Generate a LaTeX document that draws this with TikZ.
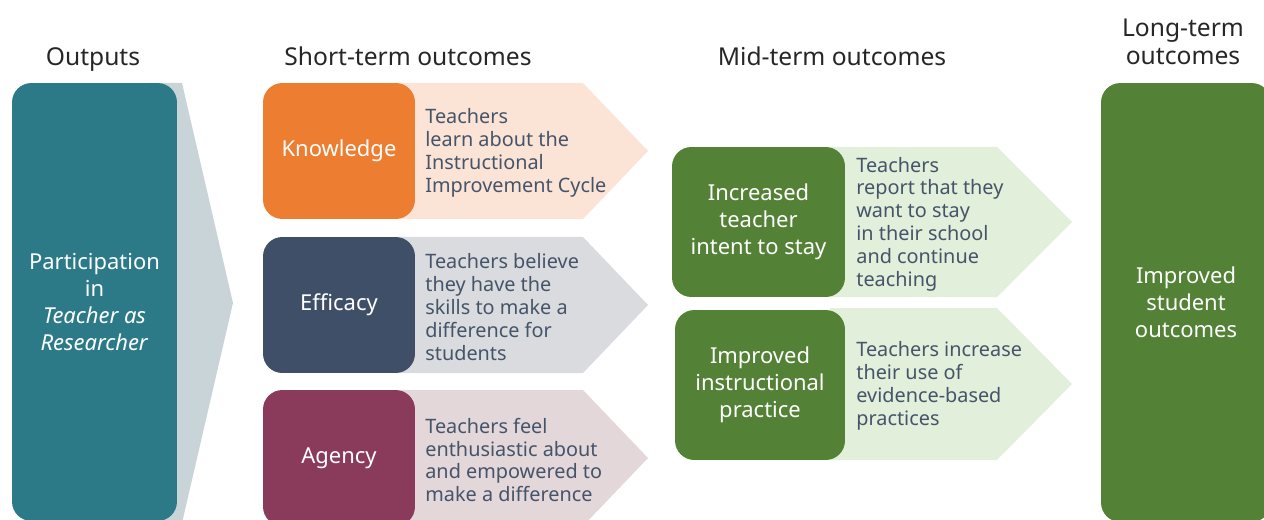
\documentclass[tikz,border=0pt]{standalone}
\usepackage{fontspec}
\setmainfont{Noto Sans}
\usepackage{xcolor}
\usetikzlibrary{positioning}

\definecolor{outteal}{HTML}{2C7A87}
\definecolor{outshade}{HTML}{C9D4D8}
\definecolor{knoworange}{HTML}{ED7D31}
\definecolor{knowbg}{HTML}{FBE4D5}
\definecolor{effslate}{HTML}{3F4F68}
\definecolor{effbg}{HTML}{DADBDE}
\definecolor{agmaroon}{HTML}{8A3B5B}
\definecolor{agbg}{HTML}{E3D7DA}
\definecolor{leafgreen}{HTML}{538135}
\definecolor{leafbg}{HTML}{E2EFDA}
\definecolor{desctext}{HTML}{44546A}

\begin{document}
\begin{tikzpicture}[x=0.02cm, y=-0.02cm,
    box/.style={rounded corners=11pt, text=white, align=center, inner sep=0pt,
        font=\fontsize{12.5}{15.5}\selectfont},
    desc/.style={anchor=west, align=left, text=desctext, inner sep=0pt,
        font=\fontsize{11.3}{13}\selectfont},
    head/.style={text=black!85, align=center, anchor=base, font=\fontsize{14}{16}\selectfont}]
        \useasboundingbox (0,0) rectangle (1264,520);

        % headings
        \node[head] (hout) at (93, 66) {Outputs};
        \node[head] (hshort) at (408, 66) {Short-term outcomes};
        \node[head] (hmid) at (832, 66) {Mid-term outcomes};
        \node[head, anchor=center] (hlong) at (1183, 42) {Long-term\\outcomes};

        % chevrons behind the boxes
        \fill[outshade] (150, 83) -- (182, 83) -- (233, 303) -- (182, 523) -- (150, 523) -- cycle;
        \fill[knowbg] (400, 83) -- (583, 83) -- (648, 151) -- (583, 219) -- (400, 219) -- cycle;
        \fill[effbg] (400, 237) -- (583, 237) -- (648, 305) -- (583, 373) -- (400, 373) -- cycle;
        \fill[agbg] (400, 390) -- (583, 390) -- (648, 458) -- (583, 526) -- (400, 526) -- cycle;
        \fill[leafbg] (830, 147) -- (997, 147) -- (1072, 222) -- (997, 297) -- (830, 297) -- cycle;
        \fill[leafbg] (830, 308) -- (997, 308) -- (1072, 384) -- (997, 460) -- (830, 460) -- cycle;

        % outputs
        \node[box, fill=outteal, minimum width=3.3cm, minimum height=8.76cm] (outputs) at (94.5, 302)
            {Participation\\in\\\textit{Teacher as}\\\textit{Researcher}};

        % short-term outcomes
        \node[box, fill=knoworange, minimum width=3.04cm, minimum height=2.72cm] (know) at (339, 151) {Knowledge};
        \node[box, fill=effslate, minimum width=3.04cm, minimum height=2.72cm] (eff) at (339, 305) {Efficacy};
        \node[box, fill=agmaroon, minimum width=3.04cm, minimum height=2.72cm] (agency) at (339, 458) {Agency};

        \node[desc] (knowtext) at (425, 153) {Teachers\\learn about the\\Instructional\\Improvement Cycle};
        \node[desc] (efftext) at (425, 307) {Teachers believe\\they have the\\skills to make a\\difference for\\students};
        \node[desc] (agtext) at (425, 460) {Teachers feel\\enthusiastic about\\and empowered to\\make a difference};

        % mid-term outcomes
        \node[box, fill=leafgreen, minimum width=3.46cm, minimum height=3cm] (intent) at (758.5, 222)
            {Increased\\teacher\\intent to stay};
        \node[box, fill=leafgreen, minimum width=3.4cm, minimum height=3cm] (practice) at (760, 385)
            {Improved\\instructional\\practice};

        \node[desc] (intenttext) at (856, 224) {Teachers\\report that they\\want to stay\\in their school\\and continue\\teaching};
        \node[desc] (practicetext) at (856, 386) {Teachers increase\\their use of\\evidence-based\\practices};

        % long-term outcomes
        \node[box, fill=leafgreen, minimum width=3.4cm, minimum height=8.78cm] (student) at (1186, 302.5)
            {Improved\\student\\outcomes};
    \end{tikzpicture}
\end{document}
